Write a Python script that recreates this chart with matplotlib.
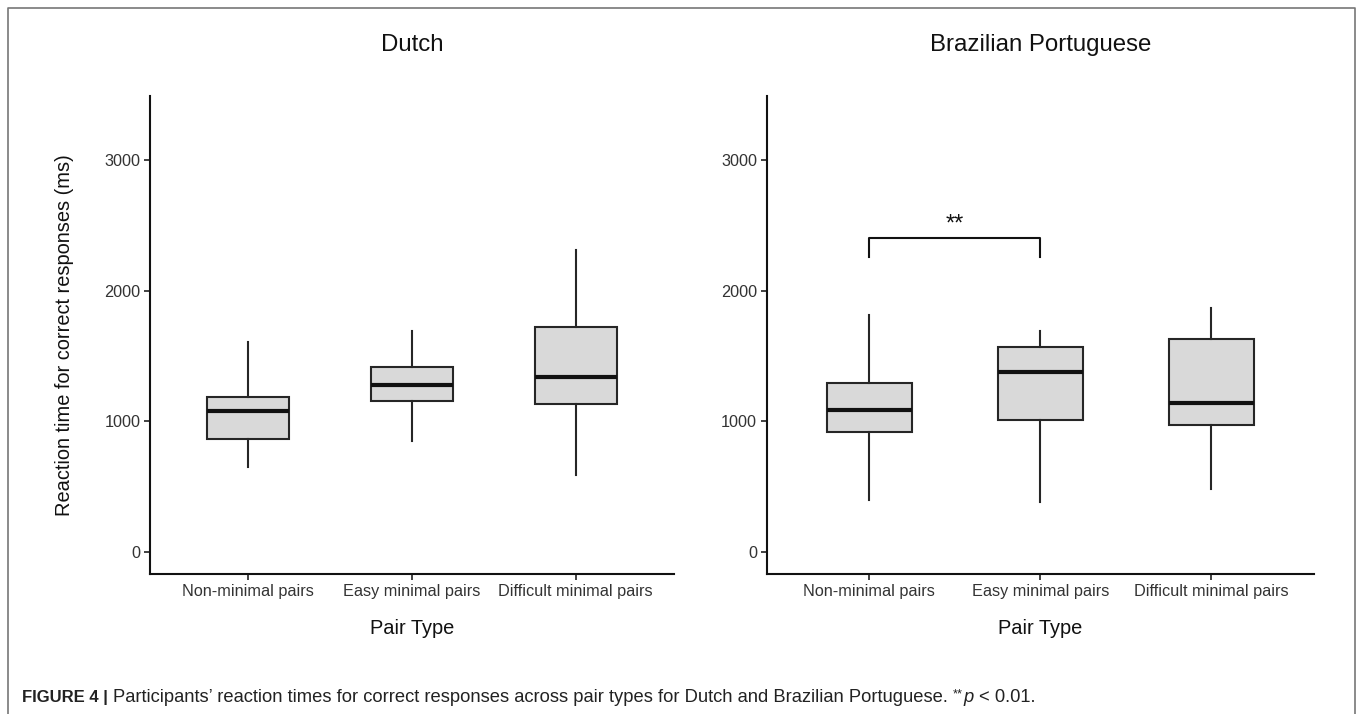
import matplotlib.pyplot as plt
from matplotlib.lines import Line2D

plt.rcParams['font.family'] = ['Liberation Sans', 'DejaVu Sans']

# reaction times (ms): lower whisker, Q1, median, Q3, upper whisker
categories = ['Non-minimal pairs', 'Easy minimal pairs', 'Difficult minimal pairs']
panel_titles = ['Dutch', 'Brazilian Portuguese']

dutch_low = [653, 851, 588]
dutch_q1 = [866, 1155, 1132]
dutch_med = [1077, 1281, 1339]
dutch_q3 = [1185, 1418, 1719]
dutch_high = [1610, 1690, 2313]

bp_low = [395, 386, 482]
bp_q1 = [921, 1012, 968]
bp_med = [1085, 1374, 1143]
bp_q3 = [1295, 1570, 1629]
bp_high = [1810, 1690, 1868]

# significance bracket in the Brazilian Portuguese panel
sig_groups = [1, 2]
sig_top = 2401
sig_bottom = 2260
sig_label = '**'

yticks = [0, 1000, 2000, 3000]

W, H = 1358, 714


def fx(px):
    return px / W


def fy(py):
    return 1 - py / H


def stats(low, q1, med, q3, high):
    out = []
    for i in range(len(med)):
        out.append({'whislo': low[i], 'q1': q1[i], 'med': med[i], 'q3': q3[i],
                    'whishi': high[i], 'fliers': []})
    return out


def draw_panel(ax, st, title):
    ax.bxp(st, positions=[1, 2, 3], widths=0.5, showcaps=False, patch_artist=True,
           boxprops=dict(facecolor='#d9d9d9', edgecolor='#262626', linewidth=1.5),
           medianprops=dict(color='#111111', linewidth=3.0, solid_capstyle='butt'),
           whiskerprops=dict(color='#262626', linewidth=1.5))
    ax.set_xlim(0.4, 3.6)
    ax.set_ylim(-167, 3492)
    ax.set_xticks([1, 2, 3])
    ax.set_xticklabels(categories)
    ax.set_yticks(yticks)
    for s in ['top', 'right']:
        ax.spines[s].set_visible(False)
    for s in ['left', 'bottom']:
        ax.spines[s].set_linewidth(1.5)
        ax.spines[s].set_color('#111111')
    ax.tick_params(axis='both', length=4, width=1.3, color='#333333',
                   labelcolor='#333333', labelsize=11.7, pad=3)
    bb = ax.get_position()
    fig.text((bb.x0 + bb.x1) / 2, fy(50.7), title, ha='center', va='baseline',
             fontsize=17.3, color='#111111')
    fig.text((bb.x0 + bb.x1) / 2, fy(634), 'Pair Type', ha='center', va='baseline',
             fontsize=14.4, color='#111111')


fig = plt.figure(figsize=(W / 100, H / 100), dpi=100)
ax1 = fig.add_axes([fx(150), fy(573.8), fx(524), 478.1 / H])
ax2 = fig.add_axes([fx(766.7), fy(573.8), fx(547.3), 478.1 / H])

draw_panel(ax1, stats(dutch_low, dutch_q1, dutch_med, dutch_q3, dutch_high), panel_titles[0])
draw_panel(ax2, stats(bp_low, bp_q1, bp_med, bp_q3, bp_high), panel_titles[1])

fig.text(fx(65), fy(334.8), 'Reaction time for correct responses (ms)', rotation=90,
         ha='center', va='center', fontsize=14.4, color='#111111')

# bracket with stars
ax2.plot([sig_groups[0], sig_groups[0], sig_groups[1], sig_groups[1]],
         [sig_bottom, sig_top, sig_top, sig_bottom], color='#111111', lw=1.5)
ax2.text(sum(sig_groups) / 2, sig_top + 20, sig_label, ha='center', va='bottom',
         fontsize=17, color='#111111')

# outer frame (open at the bottom)
frame = Line2D([fx(8), fx(8), fx(1355), fx(1355)], [0, fy(8), fy(8), 0],
               transform=fig.transFigure, color='#777777', lw=1.2)
fig.add_artist(frame)

# caption, built piece by piece
renderer = fig.canvas.get_renderer()
cap_size = 13.2
pieces = [
    ('FIGURE 4 |', dict(fontweight='bold', fontsize=12)),
    ('Participants\u2019 reaction times for correct responses across pair types for Dutch and Brazilian Portuguese.', {}),
    ('**', dict(fontsize=cap_size * 0.7)),
    ('p', dict(style='italic')),
    ('< 0.01.', {}),
]
gaps = [True, True, False, True, False]
probe_a = fig.text(0, 0, 'xx', fontsize=cap_size)
probe_b = fig.text(0, 0, 'x x', fontsize=cap_size)
space = (probe_b.get_window_extent(renderer).width - probe_a.get_window_extent(renderer).width) / W
probe_a.remove()
probe_b.remove()

x = fx(22)
for (txt, kw), gap in zip(pieces, gaps):
    kw = dict(kw)
    kw.setdefault('fontsize', cap_size)
    y = fy(701.7)
    if txt == '**':
        y = fy(697)
    t = fig.text(x, y, txt, ha='left', va='baseline', color='#222222', **kw)
    ext = t.get_window_extent(renderer)
    x = ext.x1 / W + (space if gap else 0.0007)

fig.savefig('out.png', dpi=100)
